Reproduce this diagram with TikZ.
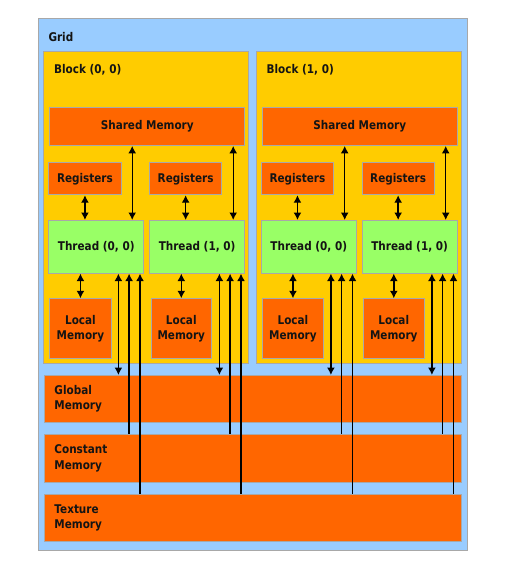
\documentclass[tikz,border=0pt]{standalone}
\usepackage{fontspec}
\newfontfamily\lblfont{DejaVu Sans}[FakeStretch=0.87]
\usetikzlibrary{arrows.meta,calc}
\definecolor{gridblue}{HTML}{99CCFF}
\definecolor{blockyel}{HTML}{FFCC00}
\definecolor{memorange}{HTML}{FF6600}
\definecolor{thrgreen}{HTML}{99FF66}
\definecolor{edgegray}{HTML}{A8A8A8}
\definecolor{txt}{HTML}{141414}
\begin{document}
\begin{tikzpicture}[x=1pt,y=-1pt,
  every node/.style={font=\lblfont\bfseries\fontsize{12}{15.7}\selectfont, text=txt},
  boxbase/.style={draw=edgegray, line width=0.9pt, inner sep=0pt, anchor=north west, align=center},
  gridbox/.style={boxbase, fill=gridblue},
  blockbox/.style={boxbase, fill=blockyel},
  membox/.style={boxbase, fill=memorange},
  thrbox/.style={boxbase, fill=thrgreen},
  bigmem/.style={membox, minimum width=417pt, text width=397pt, inner xsep=10pt, align=left},
  lbl/.style={anchor=base west, inner sep=0pt},
  conn/.style={line width=1.4pt, black},
  dbl/.style={conn, {Latex[length=7.5pt,width=8pt]}-{Latex[length=7.5pt,width=8pt]}},
  rd/.style={conn, {Latex[length=7.5pt,width=8pt]}-}
]
\useasboundingbox (0,0) rectangle (508,578);
\fill[white] (0,0) rectangle (508,578);

\node[gridbox, minimum width=428.4pt, minimum height=531.7pt] (grid) at (38.3,18.3) {};
\node[lbl] (gridlbl) at (48.3,41.5) {Grid};

\foreach \b in {0,1}{
  \pgfmathsetmacro\ox{\b*212.5}
  \node[blockbox, minimum width=205pt, minimum height=312.6pt] (blk\b) at (43.3+\ox,50.7) {};
  \node[lbl] (blklbl\b) at (54+\ox,73.3) {Block (\b, 0)};
  \node[membox, minimum width=195pt, minimum height=38.3pt] (sm\b) at (49.3+\ox,106.7) {Shared Memory};
  \node[membox, minimum width=72.4pt, minimum height=32pt] (regA\b) at (48.3+\ox,162.3) {Registers};
  \node[membox, minimum width=72.4pt, minimum height=32pt] (regB\b) at (149+\ox,162.3) {Registers};
  \node[thrbox, minimum width=95pt, minimum height=52.7pt] (thrA\b) at (48.3+\ox,220) {Thread (0, 0)};
  \node[thrbox, minimum width=95.3pt, minimum height=52.7pt] (thrB\b) at (149+\ox,220) {Thread (1, 0)};
  \node[membox, minimum width=61.4pt, minimum height=60pt] (locA\b) at (49.3+\ox,298.3) {Local\\Memory};
  \node[membox, minimum width=60.3pt, minimum height=60pt] (locB\b) at (150.7+\ox,298.3) {Local\\Memory};
}

\node[bigmem, minimum height=46.7pt] (glob) at (44,375) {Global\\Memory};
\node[bigmem, minimum height=47.4pt] (const) at (44,434.3) {Constant\\Memory};
\node[bigmem, minimum height=47pt] (tex) at (44,494) {Texture\\Memory};

\foreach \b in {0,1}{
  \foreach \t in {A,B}{
    \draw[dbl] (reg\t\b.south) -- (reg\t\b.south |- thr\t\b.north);
    \draw[dbl] (loc\t\b.north) -- (loc\t\b.north |- thr\t\b.south);
    \draw[dbl] ($(thr\t\b.north east)+(-12,0)$) -- ($(thr\t\b.north east |- sm\b.south)+(-12,0)$);
    \draw[dbl] ($(thr\t\b.south east)+(-25.8,0)$) -- ($(thr\t\b.south east |- glob.north)+(-25.8,0)$);
    \draw[rd] ($(thr\t\b.south east)+(-15.1,0)$) -- ($(thr\t\b.south east |- const.north)+(-15.1,0)$);
    \draw[rd] ($(thr\t\b.south east)+(-4.2,0)$) -- ($(thr\t\b.south east |- tex.north)+(-4.2,0)$);
  }
}
\end{tikzpicture}
\end{document}
